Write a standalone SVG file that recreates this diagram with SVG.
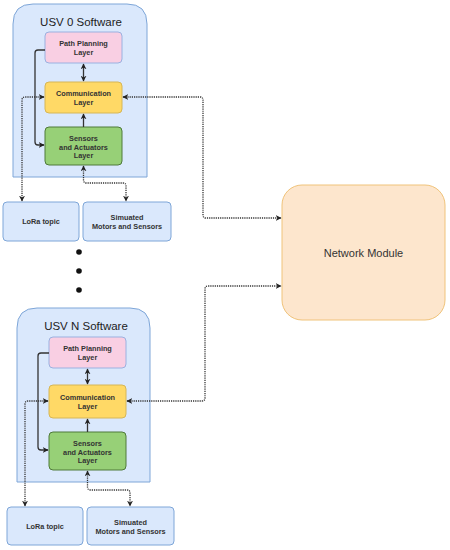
<svg xmlns="http://www.w3.org/2000/svg" width="450" height="550" viewBox="0 0 450 550">
<style>
.cont{fill:#dae8fc;stroke:#7ea6d8;stroke-width:1}
.ext{fill:#dae8fc;stroke:#7ea6d8;stroke-width:1}
.pp{fill:#f9cfe3;stroke:#9ab1e0;stroke-width:1}
.cm{fill:#ffd966;stroke:#d6b656;stroke-width:1}
.sa{fill:#97d077;stroke:#4f7a3a;stroke-width:1}
.nm{fill:#fde6cd;stroke:#f0c37a;stroke-width:1}
.t{font-family:"Liberation Sans",Arial,sans-serif;fill:#333;text-anchor:middle}
.lbl{font-size:7.3px;font-weight:bold}
.title{font-size:11.5px;fill:#222}
.solid{fill:none;stroke:#333;stroke-width:1.3}
.dot{fill:none;stroke:#333;stroke-width:1.3;stroke-dasharray:1.2 1}
</style>
<defs>
<marker id="ah" viewBox="0 0 10 10" refX="9" refY="5" markerWidth="6" markerHeight="6" orient="auto-start-reverse" markerUnits="userSpaceOnUse">
<path d="M0,0 L10,5 L0,10 L3,5 Z" fill="#222"/>
</marker>
</defs>

<g id="usv0">
<path class="cont" d="M13,177 V24 Q13,4 33,4 H127 Q147,4 147,24 V177 Z"/>
<text class="t title" x="81" y="26">USV 0 Software</text>
</g>
<g id="pp0"><rect class="pp" x="45" y="32" width="77" height="31" rx="4"/>
<text class="t lbl" x="83.5" y="46">Path Planning</text><text class="t lbl" x="83.5" y="55">Layer</text></g>
<g id="cm0"><rect class="cm" x="45" y="82" width="77" height="31" rx="4"/>
<text class="t lbl" x="83.5" y="96">Communication</text><text class="t lbl" x="83.5" y="105">Layer</text></g>
<g id="sa0"><rect class="sa" x="45" y="127" width="77" height="38" rx="4"/>
<text class="t lbl" x="83.5" y="141">Sensors</text><text class="t lbl" x="83.5" y="149.5">and Actuators</text><text class="t lbl" x="83.5" y="158">Layer</text></g>
<g id="lora0"><rect class="ext" x="3" y="202" width="76" height="39" rx="4"/>
<text class="t lbl" x="41" y="224">LoRa topic</text></g>
<g id="sim0"><rect class="ext" x="83" y="202" width="88" height="39" rx="4"/>
<text class="t lbl" x="127" y="220">Simuated</text><text class="t lbl" x="127" y="229">Motors and Sensors</text></g>

<g id="dots">
<circle cx="79" cy="252" r="2.8" fill="#111"/>
<circle cx="79" cy="271" r="2.8" fill="#111"/>
<circle cx="79" cy="290" r="2.8" fill="#111"/>
</g>

<g id="usvN">
<path class="cont" d="M17,482 V328 Q17,308 37,308 H130 Q150,308 150,328 V482 Z"/>
<text class="t title" x="86" y="330">USV N Software</text>
</g>
<g id="ppN"><rect class="pp" x="49" y="337" width="77" height="31" rx="4"/>
<text class="t lbl" x="87.5" y="351">Path Planning</text><text class="t lbl" x="87.5" y="360">Layer</text></g>
<g id="cmN"><rect class="cm" x="49" y="385" width="77" height="33" rx="4"/>
<text class="t lbl" x="87.5" y="400">Communication</text><text class="t lbl" x="87.5" y="409">Layer</text></g>
<g id="saN"><rect class="sa" x="49" y="432" width="77" height="38" rx="4"/>
<text class="t lbl" x="87.5" y="446">Sensors</text><text class="t lbl" x="87.5" y="454.5">and Actuators</text><text class="t lbl" x="87.5" y="463">Layer</text></g>
<g id="loraN"><rect class="ext" x="7" y="507" width="76" height="38" rx="4"/>
<text class="t lbl" x="45" y="529">LoRa topic</text></g>
<g id="simN"><rect class="ext" x="87" y="507" width="87" height="38" rx="4"/>
<text class="t lbl" x="130.5" y="525">Simuated</text><text class="t lbl" x="130.5" y="534">Motors and Sensors</text></g>

<g id="network"><rect class="nm" x="282" y="185" width="163" height="135" rx="20"/>
<text class="t" x="363.5" y="257" font-size="11px" fill="#333">Network Module</text></g>

<g id="connectors">
<path class="solid" d="M83.5,64 V81" marker-start="url(#ah)" marker-end="url(#ah)"/>
<path class="solid" d="M83.5,127 V114" marker-end="url(#ah)"/>
<path class="solid" d="M45,50 H38 Q35,50 35,53 V142 Q35,145 38,145 H44" marker-end="url(#ah)"/>
<path class="dot" d="M44,97 H25 Q22,97 22,100 V201" marker-start="url(#ah)" marker-end="url(#ah)"/>
<path class="dot" d="M83.5,166 V180 Q83.5,183 86.5,183 H123 Q126,183 126,186 V201" marker-start="url(#ah)" marker-end="url(#ah)"/>
<path class="dot" d="M123,97 H200 Q203,97 203,100 V215 Q203,218 206,218 H281" marker-start="url(#ah)" marker-end="url(#ah)"/>
<path class="solid" d="M87.5,369 V384" marker-start="url(#ah)" marker-end="url(#ah)"/>
<path class="solid" d="M87.5,432 V419" marker-end="url(#ah)"/>
<path class="solid" d="M49,353 H41 Q38,353 38,356 V447 Q38,450 41,450 H48" marker-end="url(#ah)"/>
<path class="dot" d="M48,401 H28 Q25,401 25,404 V506" marker-start="url(#ah)" marker-end="url(#ah)"/>
<path class="dot" d="M87.5,471 V487 Q87.5,490 90.5,490 H127 Q130,490 130,493 V506" marker-start="url(#ah)" marker-end="url(#ah)"/>
<path class="dot" d="M127,401 H202 Q205,401 205,398 V289 Q205,286 208,286 H281" marker-start="url(#ah)" marker-end="url(#ah)"/>
</g>
</svg>
